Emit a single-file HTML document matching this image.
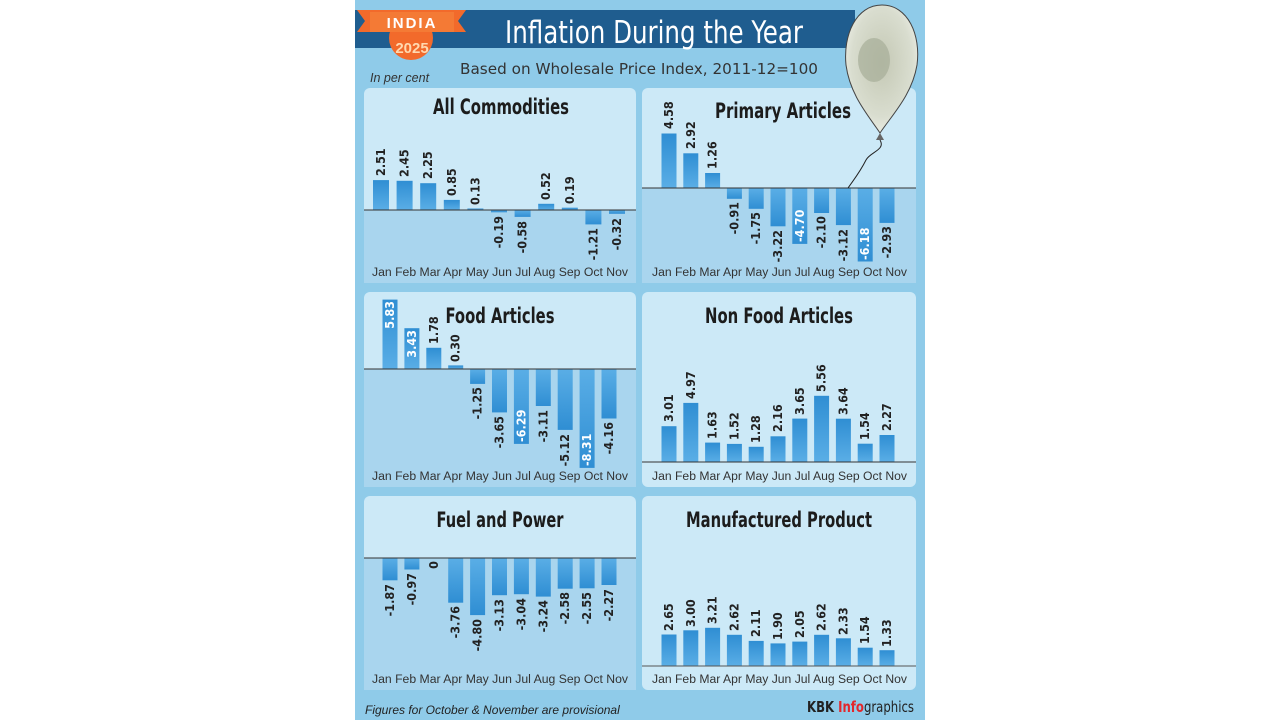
<!DOCTYPE html>
<html><head><meta charset="utf-8"><style>
html,body{margin:0;padding:0;background:#fff;}
svg{display:block}
.t{font-family:"DejaVu Sans Condensed","Liberation Sans Narrow","Liberation Sans",sans-serif;font-weight:bold;fill:#1c1c1c}
.v{font-family:"DejaVu Sans Condensed","Liberation Sans Narrow","Liberation Sans",sans-serif;font-size:12.5px;font-weight:bold;fill:#222}
.w{fill:#fff}
.m{font-family:"Liberation Sans","DejaVu Sans",sans-serif;font-size:11.5px;fill:#333}
</style></head><body>
<svg width="1280" height="720" viewBox="0 0 1280 720" xmlns="http://www.w3.org/2000/svg">
<defs>
<linearGradient id="bg" x1="0" y1="0" x2="0" y2="1"><stop offset="0" stop-color="#2f8ed3"/><stop offset="1" stop-color="#5aaee6"/></linearGradient>
<linearGradient id="bgn" x1="0" y1="0" x2="0" y2="1"><stop offset="0" stop-color="#5aaee6"/><stop offset="1" stop-color="#2f8ed3"/></linearGradient>
<radialGradient id="bal" cx="0.5" cy="0.45" r="0.6"><stop offset="0" stop-color="#c4c8b4"/><stop offset="0.7" stop-color="#d9ddcf"/><stop offset="1" stop-color="#eef0e8"/></radialGradient>
</defs>
<rect x="355" y="0" width="570" height="720" fill="#8fcbe9"/>
<!-- header -->
<rect x="355" y="10" width="500" height="38" fill="#1f5d8f"/>
<text x="654" y="43" text-anchor="middle" class="t" style="font-size:31px;fill:#fff;font-weight:normal" textLength="298" lengthAdjust="spacingAndGlyphs">Inflation During the Year</text>
<circle cx="411" cy="38" r="22" fill="#f26a2b"/>
<path d="M357 10 L466 10 L458 21 L466 32 L357 32 L365 21 Z" fill="#f26a2b"/>
<rect x="370" y="12" width="84" height="20" fill="#f47a35"/>
<text x="412" y="28" text-anchor="middle" style="font-family:'Liberation Sans',sans-serif;font-weight:bold;font-size:15px;fill:#fff;letter-spacing:2px">INDIA</text>
<text x="412" y="53" text-anchor="middle" style="font-family:'Liberation Sans',sans-serif;font-weight:bold;font-size:15px;fill:#ffd9b0">2025</text>
<text x="639" y="74" text-anchor="middle" style="font-family:'DejaVu Sans','Liberation Sans',sans-serif;font-size:15.5px;fill:#333" textLength="358" lengthAdjust="spacingAndGlyphs">Based on Wholesale Price Index, 2011-12=100</text>
<text x="370" y="82" style="font-family:'Liberation Sans',sans-serif;font-style:italic;font-size:12.5px;fill:#333">In per cent</text>

<!-- panels -->
<rect x="364" y="88" width="272" height="195" rx="6" fill="#cce9f7"/>
<rect x="364" y="210" width="272" height="73" fill="#a9d5ee"/>
<rect x="642" y="88" width="274" height="195" rx="6" fill="#cce9f7"/>
<rect x="642" y="188" width="274" height="95" fill="#a9d5ee"/>
<rect x="364" y="292" width="272" height="195" rx="6" fill="#cce9f7"/>
<rect x="364" y="369" width="272" height="118" fill="#a9d5ee"/>
<rect x="642" y="292" width="274" height="195" rx="6" fill="#cce9f7"/>
<rect x="364" y="496" width="272" height="194" rx="6" fill="#cce9f7"/>
<rect x="364" y="558" width="272" height="132" fill="#a9d5ee"/>
<rect x="642" y="496" width="274" height="194" rx="6" fill="#cce9f7"/>

<!-- titles -->
<text x="501" y="114" text-anchor="middle" class="t" style="font-size:21px" textLength="136" lengthAdjust="spacingAndGlyphs">All Commodities</text>
<text x="783" y="118" text-anchor="middle" class="t" style="font-size:21px" textLength="136" lengthAdjust="spacingAndGlyphs">Primary Articles</text>
<text x="500" y="323" text-anchor="middle" class="t" style="font-size:21px" textLength="109" lengthAdjust="spacingAndGlyphs">Food Articles</text>
<text x="779" y="323" text-anchor="middle" class="t" style="font-size:21px" textLength="148" lengthAdjust="spacingAndGlyphs">Non Food Articles</text>
<text x="500" y="527" text-anchor="middle" class="t" style="font-size:21px" textLength="127" lengthAdjust="spacingAndGlyphs">Fuel and Power</text>
<text x="779" y="527" text-anchor="middle" class="t" style="font-size:21px" textLength="186" lengthAdjust="spacingAndGlyphs">Manufactured Product</text>

<!-- month labels -->
<text x="372" y="276" class="m" textLength="256" lengthAdjust="spacingAndGlyphs">Jan Feb Mar Apr May Jun  Jul  Aug Sep Oct Nov</text>
<text x="652" y="276" class="m" textLength="255" lengthAdjust="spacingAndGlyphs">Jan Feb Mar Apr May Jun  Jul  Aug Sep Oct Nov</text>
<text x="372" y="480" class="m" textLength="256" lengthAdjust="spacingAndGlyphs">Jan Feb Mar Apr May Jun  Jul  Aug Sep Oct Nov</text>
<text x="652" y="480" class="m" textLength="255" lengthAdjust="spacingAndGlyphs">Jan Feb Mar Apr May Jun  Jul  Aug Sep Oct Nov</text>
<text x="372" y="683" class="m" textLength="256" lengthAdjust="spacingAndGlyphs">Jan Feb Mar Apr May Jun  Jul  Aug Sep Oct Nov</text>
<text x="652" y="683" class="m" textLength="255" lengthAdjust="spacingAndGlyphs">Jan Feb Mar Apr May Jun  Jul  Aug Sep Oct Nov</text>

<!-- Panel 1 -->
<g>
<rect x="373" y="180.1" width="16" height="29.9" fill="url(#bg)"/>
<rect x="396.6" y="180.8" width="16" height="29.2" fill="url(#bg)"/>
<rect x="420.2" y="183.2" width="16" height="26.8" fill="url(#bg)"/>
<rect x="443.8" y="199.9" width="16" height="10.1" fill="url(#bg)"/>
<rect x="467.4" y="208.5" width="16" height="1.5" fill="url(#bg)"/>
<rect x="491" y="210" width="16" height="2.3" fill="url(#bgn)"/>
<rect x="514.6" y="210" width="16" height="6.9" fill="url(#bgn)"/>
<rect x="538.2" y="203.8" width="16" height="6.2" fill="url(#bg)"/>
<rect x="561.8" y="207.7" width="16" height="2.3" fill="url(#bg)"/>
<rect x="585.4" y="210" width="16" height="14.4" fill="url(#bgn)"/>
<rect x="609" y="210" width="16" height="3.8" fill="url(#bgn)"/>
<line x1="364" y1="210" x2="636" y2="210" stroke="#333" stroke-width="1"/>
<text class="v" transform="translate(385,176) rotate(-90)">2.51</text>
<text class="v" transform="translate(408.6,177) rotate(-90)">2.45</text>
<text class="v" transform="translate(432.2,179) rotate(-90)">2.25</text>
<text class="v" transform="translate(455.8,196) rotate(-90)">0.85</text>
<text class="v" transform="translate(479.4,205) rotate(-90)">0.13</text>
<text class="v" transform="translate(503,216) rotate(-90)" text-anchor="end">-0.19</text>
<text class="v" transform="translate(526.6,221) rotate(-90)" text-anchor="end">-0.58</text>
<text class="v" transform="translate(550.2,200) rotate(-90)">0.52</text>
<text class="v" transform="translate(573.8,204) rotate(-90)">0.19</text>
<text class="v" transform="translate(597.4,228) rotate(-90)" text-anchor="end">-1.21</text>
<text class="v" transform="translate(621,218) rotate(-90)" text-anchor="end">-0.32</text>
</g>

<!-- Panel 2 -->
<g>
<rect x="661.5" y="133.5" width="15" height="54.5" fill="url(#bg)"/>
<rect x="683.3" y="153.3" width="15" height="34.7" fill="url(#bg)"/>
<rect x="705.1" y="173" width="15" height="15" fill="url(#bg)"/>
<rect x="726.9" y="188" width="15" height="10.8" fill="url(#bgn)"/>
<rect x="748.7" y="188" width="15" height="20.8" fill="url(#bgn)"/>
<rect x="770.5" y="188" width="15" height="38.3" fill="url(#bgn)"/>
<rect x="792.3" y="188" width="15" height="55.9" fill="url(#bgn)"/>
<rect x="814.1" y="188" width="15" height="25" fill="url(#bgn)"/>
<rect x="835.9" y="188" width="15" height="37.1" fill="url(#bgn)"/>
<rect x="857.7" y="188" width="15" height="73.5" fill="url(#bgn)"/>
<rect x="879.5" y="188" width="15" height="34.9" fill="url(#bgn)"/>
<line x1="642" y1="188" x2="916" y2="188" stroke="#333" stroke-width="1"/>
<text class="v" transform="translate(673,129) rotate(-90)">4.58</text>
<text class="v" transform="translate(694.8,149) rotate(-90)">2.92</text>
<text class="v" transform="translate(716.6,169) rotate(-90)">1.26</text>
<text class="v" transform="translate(738.4,202) rotate(-90)" text-anchor="end">-0.91</text>
<text class="v" transform="translate(760.2,212) rotate(-90)" text-anchor="end">-1.75</text>
<text class="v" transform="translate(782,230) rotate(-90)" text-anchor="end">-3.22</text>
<text class="v w" transform="translate(803.8,242) rotate(-90)">-4.70</text>
<text class="v" transform="translate(825.6,216) rotate(-90)" text-anchor="end">-2.10</text>
<text class="v" transform="translate(847.4,229) rotate(-90)" text-anchor="end">-3.12</text>
<text class="v w" transform="translate(869.2,260) rotate(-90)">-6.18</text>
<text class="v" transform="translate(891,226) rotate(-90)" text-anchor="end">-2.93</text>
</g>

<!-- Panel 3 -->
<g>
<rect x="382.5" y="299.6" width="15" height="69.4" fill="url(#bg)"/>
<rect x="404.4" y="328.2" width="15" height="40.8" fill="url(#bg)"/>
<rect x="426.3" y="347.8" width="15" height="21.2" fill="url(#bg)"/>
<rect x="448.2" y="365.4" width="15" height="3.6" fill="url(#bg)"/>
<rect x="470.1" y="369" width="15" height="14.9" fill="url(#bgn)"/>
<rect x="492" y="369" width="15" height="43.4" fill="url(#bgn)"/>
<rect x="513.9" y="369" width="15" height="74.9" fill="url(#bgn)"/>
<rect x="535.8" y="369" width="15" height="37" fill="url(#bgn)"/>
<rect x="557.7" y="369" width="15" height="60.9" fill="url(#bgn)"/>
<rect x="579.6" y="369" width="15" height="98.9" fill="url(#bgn)"/>
<rect x="601.5" y="369" width="15" height="49.5" fill="url(#bgn)"/>
<line x1="364" y1="369" x2="636" y2="369" stroke="#333" stroke-width="1"/>
<text class="v w" transform="translate(394,301) rotate(-90)" text-anchor="end">5.83</text>
<text class="v w" transform="translate(415.9,330) rotate(-90)" text-anchor="end">3.43</text>
<text class="v" transform="translate(437.8,344) rotate(-90)">1.78</text>
<text class="v" transform="translate(459.7,362) rotate(-90)">0.30</text>
<text class="v" transform="translate(481.6,387) rotate(-90)" text-anchor="end">-1.25</text>
<text class="v" transform="translate(503.5,416) rotate(-90)" text-anchor="end">-3.65</text>
<text class="v w" transform="translate(525.4,442) rotate(-90)">-6.29</text>
<text class="v" transform="translate(547.3,410) rotate(-90)" text-anchor="end">-3.11</text>
<text class="v" transform="translate(569.2,434) rotate(-90)" text-anchor="end">-5.12</text>
<text class="v w" transform="translate(591.1,466) rotate(-90)">-8.31</text>
<text class="v" transform="translate(613,422) rotate(-90)" text-anchor="end">-4.16</text>
</g>

<!-- Panel 4 -->
<g>
<rect x="661.5" y="426.2" width="15" height="35.8" fill="url(#bg)"/>
<rect x="683.3" y="402.9" width="15" height="59.1" fill="url(#bg)"/>
<rect x="705.1" y="442.6" width="15" height="19.4" fill="url(#bg)"/>
<rect x="726.9" y="443.9" width="15" height="18.1" fill="url(#bg)"/>
<rect x="748.7" y="446.8" width="15" height="15.2" fill="url(#bg)"/>
<rect x="770.5" y="436.3" width="15" height="25.7" fill="url(#bg)"/>
<rect x="792.3" y="418.6" width="15" height="43.4" fill="url(#bg)"/>
<rect x="814.1" y="395.8" width="15" height="66.2" fill="url(#bg)"/>
<rect x="835.9" y="418.7" width="15" height="43.3" fill="url(#bg)"/>
<rect x="857.7" y="443.7" width="15" height="18.3" fill="url(#bg)"/>
<rect x="879.5" y="435" width="15" height="27" fill="url(#bg)"/>
<line x1="642" y1="462" x2="916" y2="462" stroke="#333" stroke-width="1"/>
<text class="v" transform="translate(673,422) rotate(-90)">3.01</text>
<text class="v" transform="translate(694.8,399) rotate(-90)">4.97</text>
<text class="v" transform="translate(716.6,439) rotate(-90)">1.63</text>
<text class="v" transform="translate(738.4,440) rotate(-90)">1.52</text>
<text class="v" transform="translate(760.2,443) rotate(-90)">1.28</text>
<text class="v" transform="translate(782,432) rotate(-90)">2.16</text>
<text class="v" transform="translate(803.8,415) rotate(-90)">3.65</text>
<text class="v" transform="translate(825.6,392) rotate(-90)">5.56</text>
<text class="v" transform="translate(847.4,415) rotate(-90)">3.64</text>
<text class="v" transform="translate(869.2,440) rotate(-90)">1.54</text>
<text class="v" transform="translate(891,431) rotate(-90)">2.27</text>
</g>

<!-- Panel 5 -->
<g>
<rect x="382.5" y="558" width="15" height="22.3" fill="url(#bgn)"/>
<rect x="404.4" y="558" width="15" height="11.5" fill="url(#bgn)"/>
<rect x="448.2" y="558" width="15" height="44.7" fill="url(#bgn)"/>
<rect x="470.1" y="558" width="15" height="57.1" fill="url(#bgn)"/>
<rect x="492" y="558" width="15" height="37.2" fill="url(#bgn)"/>
<rect x="513.9" y="558" width="15" height="36.2" fill="url(#bgn)"/>
<rect x="535.8" y="558" width="15" height="38.6" fill="url(#bgn)"/>
<rect x="557.7" y="558" width="15" height="30.7" fill="url(#bgn)"/>
<rect x="579.6" y="558" width="15" height="30.3" fill="url(#bgn)"/>
<rect x="601.5" y="558" width="15" height="27" fill="url(#bgn)"/>
<line x1="364" y1="558" x2="636" y2="558" stroke="#333" stroke-width="1"/>
<text class="v" transform="translate(394,584) rotate(-90)" text-anchor="end">-1.87</text>
<text class="v" transform="translate(415.9,573) rotate(-90)" text-anchor="end">-0.97</text>
<text class="v" transform="translate(437.8,561) rotate(-90)" text-anchor="end">0</text>
<text class="v" transform="translate(459.7,606) rotate(-90)" text-anchor="end">-3.76</text>
<text class="v" transform="translate(481.6,619) rotate(-90)" text-anchor="end">-4.80</text>
<text class="v" transform="translate(503.5,599) rotate(-90)" text-anchor="end">-3.13</text>
<text class="v" transform="translate(525.4,598) rotate(-90)" text-anchor="end">-3.04</text>
<text class="v" transform="translate(547.3,600) rotate(-90)" text-anchor="end">-3.24</text>
<text class="v" transform="translate(569.2,592) rotate(-90)" text-anchor="end">-2.58</text>
<text class="v" transform="translate(591.1,592) rotate(-90)" text-anchor="end">-2.55</text>
<text class="v" transform="translate(613,589) rotate(-90)" text-anchor="end">-2.27</text>
</g>

<!-- Panel 6 -->
<g>
<rect x="661.5" y="634.5" width="15" height="31.5" fill="url(#bg)"/>
<rect x="683.3" y="630.3" width="15" height="35.7" fill="url(#bg)"/>
<rect x="705.1" y="627.8" width="15" height="38.2" fill="url(#bg)"/>
<rect x="726.9" y="634.8" width="15" height="31.2" fill="url(#bg)"/>
<rect x="748.7" y="640.9" width="15" height="25.1" fill="url(#bg)"/>
<rect x="770.5" y="643.4" width="15" height="22.6" fill="url(#bg)"/>
<rect x="792.3" y="641.6" width="15" height="24.4" fill="url(#bg)"/>
<rect x="814.1" y="634.8" width="15" height="31.2" fill="url(#bg)"/>
<rect x="835.9" y="638.3" width="15" height="27.7" fill="url(#bg)"/>
<rect x="857.7" y="647.7" width="15" height="18.3" fill="url(#bg)"/>
<rect x="879.5" y="650.2" width="15" height="15.8" fill="url(#bg)"/>
<line x1="642" y1="666" x2="916" y2="666" stroke="#555" stroke-width="1"/>
<text class="v" transform="translate(673,631) rotate(-90)">2.65</text>
<text class="v" transform="translate(694.8,627) rotate(-90)">3.00</text>
<text class="v" transform="translate(716.6,624) rotate(-90)">3.21</text>
<text class="v" transform="translate(738.4,631) rotate(-90)">2.62</text>
<text class="v" transform="translate(760.2,637) rotate(-90)">2.11</text>
<text class="v" transform="translate(782,640) rotate(-90)">1.90</text>
<text class="v" transform="translate(803.8,638) rotate(-90)">2.05</text>
<text class="v" transform="translate(825.6,631) rotate(-90)">2.62</text>
<text class="v" transform="translate(847.4,635) rotate(-90)">2.33</text>
<text class="v" transform="translate(869.2,644) rotate(-90)">1.54</text>
<text class="v" transform="translate(891,647) rotate(-90)">1.33</text>
</g>

<!-- balloon -->
<path d="M882 5 C856 5 843 35 846 65 C850 95 868 115 880 133 C892 115 912 95 917 65 C921 35 908 5 882 5 Z" fill="url(#bal)" stroke="#444" stroke-width="1"/>
<ellipse cx="874" cy="60" rx="16" ry="22" fill="#a7ae98" opacity="0.7"/>
<path d="M880 133 L876 140 L884 140 Z" fill="#666"/>
<path d="M880 140 C886 150 870 152 866 160 C860 172 855 178 848 188" fill="none" stroke="#222" stroke-width="1"/>

<!-- footer -->
<text x="365" y="714" style="font-family:'Liberation Sans',sans-serif;font-style:italic;font-size:12px;fill:#222">Figures for October &amp; November are provisional</text>
<text x="807" y="712" style="font-family:'DejaVu Sans Condensed','Liberation Sans',sans-serif;font-size:15px;fill:#222" textLength="107" lengthAdjust="spacingAndGlyphs"><tspan font-weight="bold">KBK </tspan><tspan font-weight="bold" fill="#e3262b">Info</tspan><tspan>graphics</tspan></text>
</svg>
</body></html>
